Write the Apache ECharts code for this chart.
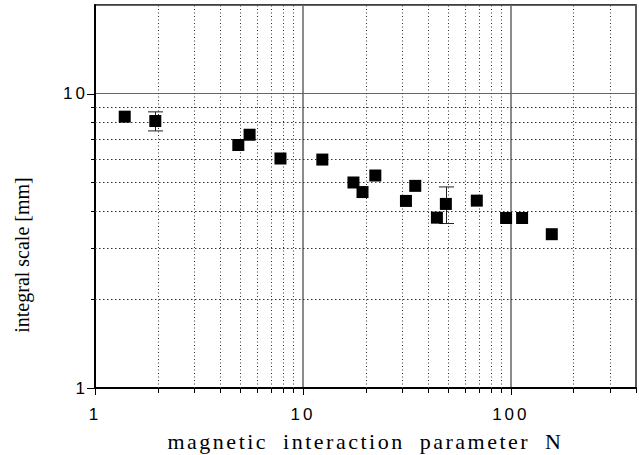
<!DOCTYPE html>
<html><head><meta charset="utf-8">
<script src="https://cdn.jsdelivr.net/npm/echarts@6/dist/echarts.min.js"></script>
<style>html,body{margin:0;padding:0;background:#fff}#c{width:639px;height:455px}</style>
</head><body><div id="c"></div>
<script>
// N values (x) and integral scale in mm (y)
const xValues = [1.39, 1.95, 4.89, 5.54, 7.8, 12.4, 17.5, 19.35, 22.3, 31.3, 34.7, 44.1, 48.7, 68.6, 94.9, 113.3, 157.4];
const yValues = [8.35, 8.07, 6.69, 7.25, 6.02, 5.97, 4.99, 4.63, 5.27, 4.32, 4.86, 3.79, 4.22, 4.33, 3.78, 3.78, 3.33];
// error bars: N, value, +/- error
const errorX = [1.95, 48.7];
const errorY = [8.07, 4.22];
const errorSize = [0.6, 0.6];
const xMajorTicks = [1, 10, 100];
const xMinorTicks = [2, 3, 4, 5, 6, 7, 8, 9, 20, 30, 40, 50, 60, 70, 80, 90, 200, 300, 400];
const yMajorTicks = [1, 10];
const yMinorTicks = [2, 3, 4, 5, 6, 7, 8, 9];
const xTickLabels = ['1', '10', '100'];
const yTickLabels = ['1', '10'];
const xMin = 1, xMax = 400, yMin = 1, yMax = 20;
const xAxisName = 'magnetic interaction parameter N';
const yAxisName = 'integral scale [mm]';

const chart = echarts.init(document.getElementById('c'), null, {renderer: 'svg'});

function labelFmt(list) {
  return function (v) {
    const s = String(Math.round(v));
    return list.includes(s) ? s : '';
  };
}

function xTickSeries(values, len, grid) {
  return {
    type: 'custom', coordinateSystem: 'cartesian2d', clip: false, silent: true, z: 1,
    data: values.map(v => [v, yMin]), encode: {x: 0, y: 1},
    renderItem: function (params, api) {
      const v = api.value(0);
      const b = api.coord([v, yMin]);
      const t = api.coord([v, yMax]);
      const x = Math.round(b[0]) + 0.5;
      const children = [{type: 'line', shape: {x1: x, y1: b[1], x2: x, y2: b[1] + len}, style: {stroke: '#000', lineWidth: 1}}];
      if (grid && v < xMax) {
        children.push({type: 'line', shape: {x1: x, y1: b[1], x2: x, y2: t[1]}, style: {stroke: '#333', lineWidth: 1, lineDash: [1, 2.5]}});
      }
      return {type: 'group', children: children};
    }
  };
}

function yTickSeries(values, len, grid) {
  return {
    type: 'custom', coordinateSystem: 'cartesian2d', clip: false, silent: true, z: 1,
    data: values.map(v => [xMin, v]), encode: {x: 0, y: 1},
    renderItem: function (params, api) {
      const v = api.value(1);
      const l = api.coord([xMin, v]);
      const r = api.coord([xMax, v]);
      const y = Math.round(l[1]) + 0.5;
      const children = [{type: 'line', shape: {x1: l[0] - len, y1: y, x2: l[0], y2: y}, style: {stroke: '#000', lineWidth: 1}}];
      if (grid && v < yMax) {
        children.push({type: 'line', shape: {x1: l[0], y1: y, x2: r[0], y2: y}, style: {stroke: '#333', lineWidth: 1, lineDash: [1.5, 2.5]}});
      }
      return {type: 'group', children: children};
    }
  };
}

const option = {
  animation: false,
  backgroundColor: '#fff',
  grid: {left: 95, right: 3, top: 5, bottom: 67, outerBoundsMode: 'none', containLabel: false, show: true, borderColor: '#000', borderWidth: 1.5, backgroundColor: 'transparent'},
  xAxis: {
    type: 'log', logBase: 10, min: xMin, max: xMax,
    axisLine: {show: true, onZero: false, lineStyle: {color: '#000', width: 2}},
    axisTick: {show: false},
    splitLine: {show: true, lineStyle: {color: '#666', width: 1.5}},
    axisLabel: {formatter: labelFmt(xTickLabels), margin: 18, color: '#000', fontFamily: 'Liberation Sans', fontSize: 17, showMaxLabel: false},
    name: xAxisName, nameLocation: 'middle', nameGap: 42,
    nameTextStyle: {fontFamily: 'Liberation Serif', fontSize: 22, color: '#000'}
  },
  yAxis: {
    type: 'log', logBase: 10, min: yMin, max: yMax,
    axisLine: {show: true, onZero: false, lineStyle: {color: '#000', width: 2}},
    axisTick: {show: false},
    splitLine: {show: true, lineStyle: {color: '#666', width: 1.2}},
    axisLabel: {formatter: labelFmt(yTickLabels), margin: 7, color: '#000', fontFamily: 'Liberation Sans', fontSize: 17, showMaxLabel: false},
    name: yAxisName, nameLocation: 'middle', nameGap: 63,
    nameTextStyle: {fontFamily: 'Liberation Serif', fontSize: 20, color: '#000', padding: [0, 117, 0, 0]}
  },
  series: [
    xTickSeries(xMinorTicks, 5, true),
    xTickSeries(xMajorTicks, 7, false),
    yTickSeries(yMinorTicks, 4, true),
    yTickSeries(yMajorTicks, 8, false),
    {
      type: 'custom', coordinateSystem: 'cartesian2d', silent: true, z: 2,
      data: errorX.map((x, i) => [x, errorY[i], errorSize[i]]), encode: {x: 0, y: 1},
      renderItem: function (params, api) {
        const x = api.value(0), y = api.value(1), e = api.value(2);
        const t = api.coord([x, y + e]);
        const b = api.coord([x, y - e]);
        const cx = Math.round(t[0]) + 0.5;
        const st = {stroke: '#222', lineWidth: 1};
        return {type: 'group', children: [
          {type: 'line', shape: {x1: cx, y1: t[1], x2: cx, y2: b[1]}, style: st},
          {type: 'line', shape: {x1: cx - 7.5, y1: t[1], x2: cx + 7.5, y2: t[1]}, style: st},
          {type: 'line', shape: {x1: cx - 7.5, y1: b[1], x2: cx + 7.5, y2: b[1]}, style: st}
        ]};
      }
    },
    {
      type: 'scatter', z: 3, symbol: 'rect', symbolSize: 12,
      itemStyle: {color: '#000', opacity: 1},
      data: xValues.map((x, i) => [x, yValues[i]])
    }
  ]
};
chart.setOption(option);

function applySpacing() {
  document.querySelectorAll('#c svg text').forEach(function (t) {
    const s = t.textContent;
    if (s === xAxisName) { t.style.letterSpacing = '2.5px'; t.style.wordSpacing = '7px'; }
    else if (/^\d+$/.test(s)) t.style.letterSpacing = '3px';
  });
}
applySpacing();
chart.on('finished', applySpacing);
</script>
</body></html>
